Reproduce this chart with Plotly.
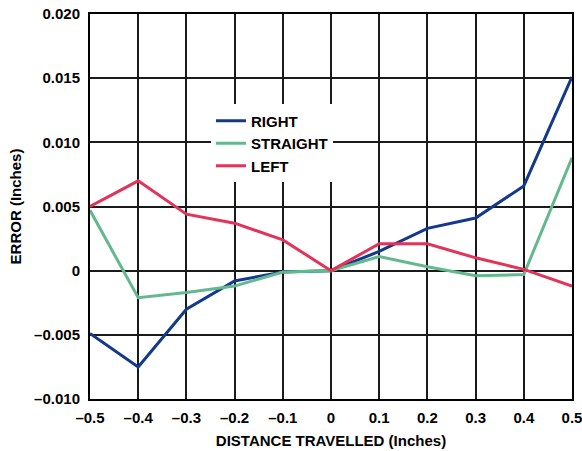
import plotly.graph_objects as go

x_vals = [-0.5, -0.4, -0.3, -0.2, -0.1, 0.0, 0.1, 0.2, 0.3, 0.4, 0.5]
right = [-0.0049, -0.0075, -0.0030, -0.0008, -0.0001, 0.0, 0.0015, 0.0033, 0.0041, 0.0066, 0.0151]
straight = [0.0047, -0.0021, -0.0017, -0.0012, -0.0001, 0.0, 0.0011, 0.0003, -0.0004, -0.0003, 0.0088]
left = [0.0050, 0.0070, 0.0044, 0.0037, 0.0024, 0.0, 0.0021, 0.0021, 0.0010, 0.0001, -0.0012]

x_ticks = [-0.5, -0.4, -0.3, -0.2, -0.1, 0.0, 0.1, 0.2, 0.3, 0.4, 0.5]
x_ticktext = ["–0.5", "–0.4", "–0.3", "–0.2", "–0.1", "0", "0.1", "0.2", "0.3", "0.4", "0.5"]
y_ticks = [-0.010, -0.005, 0.0, 0.005, 0.010, 0.015, 0.020]
y_ticktext = ["–0.010", "–0.005", "0", "0.005", "0.010", "0.015", "0.020"]

FONT = "Liberation Sans, Arial, Helvetica, sans-serif"

fig = go.Figure()
series = [("RIGHT", right, "#12398a"), ("STRAIGHT", straight, "#63b98d"), ("LEFT", left, "#e2345a")]
for name, vals, col in series:
    fig.add_trace(go.Scatter(x=x_vals, y=vals, mode="lines", name=name,
                             line=dict(color=col, width=3)))

axis_common = dict(showgrid=True, gridcolor="#1a1a1a", gridwidth=1.5,
                   showline=True, linecolor="#000000", linewidth=2, mirror=True,
                   zeroline=False, ticks="outside", tickcolor="rgba(0,0,0,0)",
                   automargin=False, ticklabeloverflow="allow",
                   tickfont=dict(family=FONT, size=15, color="#000", weight="bold"))

fig.update_xaxes(range=[-0.5, 0.5], tickvals=x_ticks, ticktext=x_ticktext, ticklen=4,
                 title=dict(text="DISTANCE TRAVELLED (Inches)", standoff=10,
                            font=dict(family=FONT, size=15, color="#000", weight="bold")),
                 **axis_common)
fig.update_yaxes(range=[-0.010, 0.020], tickvals=y_ticks, ticktext=y_ticktext, ticklen=5,
                 title=dict(text="ERROR (Inches)", standoff=9,
                            font=dict(family=FONT, size=15, color="#000", weight="bold")),
                 **axis_common)

fig.update_layout(
    width=582, height=451,
    margin=dict(l=90, r=10, t=14, b=52),
    paper_bgcolor="white", plot_bgcolor="white",
    legend=dict(x=0.251, y=0.765, xanchor="left", yanchor="top",
                bgcolor="white", borderwidth=0, itemwidth=30,
                font=dict(family=FONT, size=15, color="#000", weight="bold"),
                tracegroupgap=0),
    showlegend=True,
)

fig.write_html("out.html", config={"displayModeBar": False},
               post_script="document.body.style.margin='0';")
